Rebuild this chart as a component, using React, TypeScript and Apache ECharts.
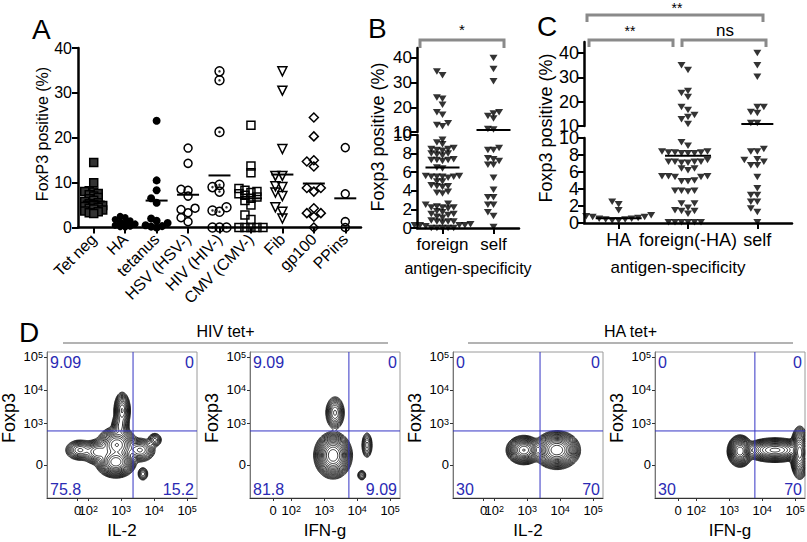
import React, { useEffect, useRef } from "react";
import * as echarts from "echarts";

const FONT = "'Liberation Sans', Arial, Helvetica, sans-serif";

// ---------------- Panel A data ----------------
const aCategories = ["Tet neg", "HA", "tetanus", "HSV (HSV-)", "HIV (HIV-)", "CMV (CMV-)", "Fib", "gp100", "PPins"];
const aTetNeg = [14.5, 10, 8.2, 8, 7.9, 7.6, 7.3, 7, 6.7, 6.4, 6.1, 5.8, 5.5, 5.3, 5.1, 4.9, 4.7, 4.5, 4.3, 4.1, 3.9, 3.7, 3.5, 3.3, 3.1];
const aHA = [2.5, 2.2, 1.8, 1.5, 1.2, 1.0, 0.8, 0.5, 0.3, 0.2, 0.1];
const aTetanus = [23.8, 10.5, 8.3, 6.5, 5.5, 2.0, 1.5, 1.0, 0.5, 0.3, 0.2, 0];
const aHSV = [17.7, 14.3, 8.5, 8.3, 7.0, 4.3, 4.0, 3.3, 2.2, 1.3];
const aHIV = [34.8, 32.8, 21.3, 9.5, 9.0, 8.0, 4.5, 3.8, 3.5, 0, 0, 0];
const aCMV = [22.8, 13.7, 12.2, 8.7, 8.3, 8.0, 7.8, 7.5, 7.2, 6.8, 6.5, 6.0, 5.0, 2.8, 1.8, 0, 0, 0, 0, 0];
const aFib = [34.8, 30.5, 17.5, 11.5, 11.5, 9.2, 9.0, 7.8, 7.0, 4.5, 3.5, 2.0];
const aGp100 = [24.5, 20.3, 15.0, 14.7, 13.6, 8.8, 8.8, 8.0, 4.3, 3.2, 3.2, 2.4, 0];
const aPPins = [17.8, 7.5, 1.3, 0];
const aMeans = [5.8, 0.8, 6.0, 7.3, 11.6, 6.5, 11.8, 9.8, 6.5];
const aYTicks = [0, 10, 20, 30, 40];

// ---------------- Panel B data ----------------
const bCategories = ["foreign", "self"];
const bForeign = [
  34.5, 33, 24, 23.5, 21, 18, 17, 13.5, 12.8, 12.3,
  9.5, 9.2, 9.0, 8.6, 8.5, 8.4, 8.5, 8.3, 8.0, 7.9, 8.0, 7.8,
  7.3, 7.3, 7.2, 7.4, 7.3, 6.4, 6.5, 5.5, 5.5, 5.6, 5.4, 5.5, 5.5, 5.6,
  5.0, 5.0, 4.5, 4.4, 4.6, 4.5, 3.8, 3.7, 3.9, 2.5, 2.6,
  2.2, 2.2, 2.1, 2.3, 2.2, 1.8, 1.7, 1.5, 1.4, 1.5, 1.2, 1.1,
  0.7, 0.7, 0.6, 0.8, 0.7, 0.3, 0.3, 0.2, 0.3, 0.4, 0.3, 0, 0, 0, 0, 0,
];
const bSelf = [40, 35.5, 30.5, 18, 17.5, 16.5, 15.5, 11.2, 11, 8.6, 8.4, 8.4, 7.5, 7.4, 7.2, 6.8, 6.8, 5.4, 4.1, 3.3, 3.3, 2.5, 2.5, 1.7, 1.3, 0.1];
const bMeans = [6.5, 10.8];
const bSignificance = "*";

// ---------------- Panel C data ----------------
const cCategories = ["HA", "foreign(-HA)", "self"];
const cHA = [2.5, 2.2, 1.5, 0.9, 0.8, 0.7, 0.6, 0.5, 0.4, 0.4, 0.3, 0.3, 0.5, 0.7];
const cForeign = [
  35, 33, 24.4, 23.6, 21.9, 17.8, 16.6, 14.5, 13.7, 12.8, 10.8,
  9.5, 9.1, 8.3, 8.2, 8.2, 8.3, 8.3, 8.4, 8.2, 8.4, 7.2, 7.1, 7.1, 7.2, 7.2, 7.2, 7.4,
  6.4, 6.2, 6.4, 5.5, 5.5, 5.4, 5.5, 5.4, 4.9, 4.9, 5.0, 3.8, 3.7, 3.8, 3.8,
  2.3, 2.3, 1.8, 1.5, 1.4, 1.4, 1.1, 0.1, 0.1, 0.1, 0.1, 0.1, 0.1,
];
const cSelf = [40, 35, 30.2, 17.8, 17.8, 15.3, 15.7, 11.2, 11.2, 8.7, 8.4, 8.4, 7.5, 7.4, 7.2, 6.8, 6.8, 5.4, 4.1, 3.3, 3.3, 2.5, 2.5, 1.7, 1.3, 0.1];
const cMeans = [0.55, 7.9, 10.8];
const cSignificance = ["**", "**", "ns"];

const upperTicks = [10, 20, 30, 40];
const lowerTicksA = [0, 4, 8];
const lowerTicksB = [2, 6, 10];
const axisTitle = "antigen-specificity";

// ---------------- Panel D data ----------------
const dGroupTitles = ["HIV tet+", "HA tet+"];
const dXNames = ["IL-2", "IFN-g", "IL-2", "IFN-g"];
const dYName = "Foxp3";
const dQuadrants = [
  ["9.09", "0", "75.8", "15.2"],
  ["9.09", "0", "81.8", "9.09"],
  ["0", "0", "30", "70"],
  ["0", "0", "30", "70"],
];
// axis positions in decade units (log10); "0" sits on the biexponential part
const dXZeroPos = [1.68, 1.45, 1.68, 1.45];
const dXDecades = [2, 3, 4, 5];
const dYZeroPos = 1.73;
const dYDecades = [3, 4, 5];
// quadrant gates [x, y]
const dGates = [[3.36, 2.76], [3.75, 2.76], [3.39, 2.76], [3.78, 2.76]];
// populations: [centre x, centre y, spread x, spread y, weight]
const dPopulations = [
  [
    [2.84, 1.82, 0.19, 0.15, 1],
    [2.87, 2.34, 0.2, 0.18, 0.55],
    [2.97, 2.9, 0.1, 0.16, 0.12],
    [3.03, 3.38, 0.09, 0.2, 0.22],
    [1.75, 2.18, 0.17, 0.12, 0.12],
    [2.3, 2.12, 0.18, 0.14, 0.2],
    [3.57, 2.18, 0.18, 0.14, 0.12],
    [4.02, 2.49, 0.09, 0.09, 0.05],
    [3.66, 1.46, 0.07, 0.09, 0.04],
  ],
  [
    [3.27, 2.02, 0.18, 0.22, 1],
    [3.33, 3.31, 0.11, 0.19, 0.12],
    [4.3, 2.33, 0.07, 0.17, 0.05],
    [4.14, 1.42, 0.06, 0.07, 0.035],
  ],
  [
    [2.9, 2.18, 0.17, 0.14, 0.75],
    [3.9, 2.18, 0.22, 0.18, 1],
  ],
  [
    [3.33, 2.15, 0.12, 0.15, 1],
    [4.39, 2.18, 0.31, 0.12, 0.6],
    [5.14, 2.1, 0.09, 0.25, 0.9],
  ],
];

// ---------------- layout ----------------
const L = {
  A: { left: 78, top: 48, width: 283, height: 179.5, max: 40 },
  B: { left: 417, width: 102, upperTop: 48, upperH: 84, upperMax: 44, lowerTop: 135, lowerH: 93 },
  C: { left: 584, width: 208, upperTop: 42, upperH: 84, upperMax: 44.5, lowerTop: 138, lowerH: 85 },
  D: { lefts: [47, 250, 453, 655], top: 352, width: 150, height: 146, xMin: 0.75, xMax: 5.3, yMin: 0.73, yMax: 5.15 },
};

function swarm(py: number[], w: number, h: number): number[] {
  const idx = py.map((_, i) => i).sort((a, b) => py[b] - py[a]);
  const placed: { x: number; y: number }[] = [];
  const out = new Array(py.length).fill(0);
  for (const i of idx) {
    const y = py[i];
    const near = placed.filter((p) => Math.abs(p.y - y) < h);
    const cands = [0];
    near.forEach((p) => cands.push(p.x + w, p.x - w));
    cands.sort((a, b) => Math.abs(a) - Math.abs(b) || a - b);
    let x = 0;
    for (const c of cands) {
      if (near.every((p) => Math.abs(p.x - c) >= w - 0.01)) {
        x = c;
        break;
      }
    }
    placed.push({ x, y });
    out[i] = x;
  }
  return out;
}

function meanSeries(xi: number, yi: number, data: number[][], halfs: number[]) {
  return {
    type: "custom",
    xAxisIndex: xi,
    yAxisIndex: yi,
    data,
    z: 5,
    silent: true,
    encode: { x: 0, y: 1 },
    renderItem: (params: any, api: any) => {
      const c = api.value(0);
      const p = api.coord([c, api.value(1)]);
      const half = halfs[c] || 10;
      return {
        type: "line",
        shape: { x1: p[0] - half, y1: p[1], x2: p[0] + half, y2: p[1] },
        style: { stroke: "#000", lineWidth: 2 },
      };
    },
  };
}

function contourPath(pops: number[][], a0: number[], a1: number[]) {
  const D = L.D;
  const nx = 140, ny = 136;
  const f: number[][] = [];
  let max = 0;
  for (let j = 0; j <= ny; j++) {
    const row: number[] = [];
    const y = D.yMin + ((D.yMax - D.yMin) * j) / ny;
    for (let i = 0; i <= nx; i++) {
      const x = D.xMin + ((D.xMax - D.xMin) * i) / nx;
      let s = 0;
      for (const p of pops) {
        const dx = (x - p[0]) / p[2];
        const dy = (y - p[1]) / p[3];
        s += p[4] * Math.exp(-0.5 * (dx * dx + dy * dy));
      }
      row.push(s);
      if (s > max) max = s;
    }
    f.push(row);
  }
  const levels: number[] = [];
  for (let k = 1; k <= 17; k++) levels.push(max * Math.pow(0.73, k));
  const P = (fi: number, fj: number) =>
    (a0[0] + ((a1[0] - a0[0]) * fi) / nx).toFixed(1) + " " + (a0[1] + ((a1[1] - a0[1]) * fj) / ny).toFixed(1);
  let d = "";
  for (const lv of levels) {
    for (let j = 0; j < ny; j++) {
      for (let i = 0; i < nx; i++) {
        const a = f[j][i], b = f[j][i + 1], c = f[j + 1][i + 1], e = f[j + 1][i];
        const A = a >= lv, B = b >= lv, C = c >= lv, E = e >= lv;
        if (A === B && B === C && C === E) continue;
        const pts: string[] = [];
        pts.push(A !== B ? P(i + (lv - a) / (b - a), j) : "");
        pts.push(B !== C ? P(i + 1, j + (lv - b) / (c - b)) : "");
        pts.push(E !== C ? P(i + (lv - e) / (c - e), j + 1) : "");
        pts.push(A !== E ? P(i, j + (lv - a) / (e - a)) : "");
        const got = pts.filter((s) => s);
        if (got.length === 2) {
          d += "M" + got[0] + "L" + got[1];
        } else if (got.length === 4) {
          const centre = (a + b + c + e) / 4 >= lv;
          if (A === centre) {
            d += "M" + pts[0] + "L" + pts[1] + "M" + pts[2] + "L" + pts[3];
          } else {
            d += "M" + pts[3] + "L" + pts[0] + "M" + pts[1] + "L" + pts[2];
          }
        }
      }
    }
  }
  return d;
}

function buildOption() {
  const D = L.D;
  const series: any[] = [];
  const grids: any[] = [];
  const xAxes: any[] = [];
  const yAxes: any[] = [];
  const graphic: any[] = [];
  const base = { containLabel: false, outerBoundsMode: "none" };
  const blackLine = { show: true, onZero: false, lineStyle: { color: "#000", width: 2.5 } };
  const blackTick = { show: true, length: 6, lineStyle: { color: "#000", width: 2 } };
  const label = (size: number, extra: any = {}) => ({
    color: "#000", fontSize: size, fontFamily: FONT, showMinLabel: true, showMaxLabel: true, hideOverlap: false, ...extra,
  });

  grids.push({ ...base, left: L.A.left, top: L.A.top, width: L.A.width, height: L.A.height });
  grids.push({ ...base, left: L.B.left, top: L.B.upperTop, width: L.B.width, height: L.B.upperH });
  grids.push({ ...base, left: L.B.left, top: L.B.lowerTop, width: L.B.width, height: L.B.lowerH });
  grids.push({ ...base, left: L.C.left, top: L.C.upperTop, width: L.C.width, height: L.C.upperH });
  grids.push({ ...base, left: L.C.left, top: L.C.lowerTop, width: L.C.width, height: L.C.lowerH });
  D.lefts.forEach((l) =>
    grids.push({ ...base, left: l, top: D.top, width: D.width, height: D.height, show: true, borderColor: "#9a9a9a", borderWidth: 1, backgroundColor: "transparent" })
  );

  // ----- Panel A axes
  xAxes.push({
    gridIndex: 0, type: "category", data: aCategories, axisLine: blackLine,
    axisTick: { ...blackTick, alignWithLabel: true },
    axisLabel: label(16, { rotate: 45, interval: 0, margin: 9 }), splitLine: { show: false },
  });
  yAxes.push({
    gridIndex: 0, type: "value", min: aYTicks[0], max: aYTicks[aYTicks.length - 1], interval: 10,
    axisLine: blackLine, axisTick: blackTick, axisLabel: label(16, { margin: 6 }), splitLine: { show: false },
  });
  // ----- Panel B axes
  xAxes.push({ gridIndex: 1, type: "category", data: bCategories, show: false });
  xAxes.push({
    gridIndex: 2, type: "category", data: bCategories, axisLine: blackLine,
    axisTick: { ...blackTick, alignWithLabel: true }, axisLabel: label(17, { margin: 8, interval: 0 }), splitLine: { show: false },
  });
  yAxes.push({
    gridIndex: 1, type: "value", min: 10, max: L.B.upperMax, axisLine: blackLine,
    axisTick: { ...blackTick, customValues: upperTicks }, axisLabel: label(17, { margin: 5, lineHeight: 14, customValues: upperTicks }), splitLine: { show: false },
  });
  yAxes.push({
    gridIndex: 2, type: "value", min: 0, max: 10, interval: 2, axisLine: blackLine,
    axisTick: blackTick, axisLabel: label(17, { margin: 5, lineHeight: 14 }), splitLine: { show: false },
  });
  // ----- Panel C axes
  xAxes.push({ gridIndex: 3, type: "category", data: cCategories, show: false });
  xAxes.push({
    gridIndex: 4, type: "category", data: cCategories, axisLine: blackLine,
    axisTick: { ...blackTick, alignWithLabel: true }, axisLabel: label(18, { margin: 8, interval: 0 }), splitLine: { show: false },
  });
  yAxes.push({
    gridIndex: 3, type: "value", min: 10, max: L.C.upperMax, axisLine: blackLine,
    axisTick: { ...blackTick, customValues: upperTicks }, axisLabel: label(18, { margin: 5, lineHeight: 14, customValues: upperTicks }), splitLine: { show: false },
  });
  yAxes.push({
    gridIndex: 4, type: "value", min: 0, max: 10, interval: 2, position: "left", axisLine: blackLine,
    axisTick: blackTick, axisLabel: label(18, { margin: 5, lineHeight: 14, customValues: lowerTicksA }), splitLine: { show: false },
  });

  // ----- Panel D axes
  const rich = {
    n: { fontSize: 13, color: "#000", fontFamily: FONT },
    s: { fontSize: 9, color: "#000", fontFamily: FONT, verticalAlign: "top" },
  };
  const fmt = (zero: number) => (v: number) => (Math.abs(v - zero) < 1e-6 ? "{n|0}" : `{n|10}{s|${Math.round(v)}}`);
  for (let i = 0; i < 4; i++) {
    xAxes.push({
      gridIndex: 5 + i, type: "value", min: D.xMin, max: D.xMax, position: "bottom",
      axisLine: { show: true, onZero: false, lineStyle: { color: "#333", width: 1 } },
      axisTick: { show: true, customValues: dXDecades, length: 3, lineStyle: { color: "#333" } },
      axisLabel: { customValues: dXDecades, formatter: fmt(-99), rich, margin: 6, hideOverlap: false, showMinLabel: true, showMaxLabel: true },
      splitLine: { show: false },
    });
    const yv = [dYZeroPos, ...dYDecades];
    yAxes.push({
      gridIndex: 5 + i, type: "value", min: D.yMin, max: D.yMax,
      axisLine: { show: true, onZero: false, lineStyle: { color: "#777", width: 1 } },
      axisTick: { show: true, customValues: yv, length: 3, lineStyle: { color: "#333" } },
      axisLabel: { customValues: yv, formatter: fmt(dYZeroPos), rich, margin: 4, lineHeight: 12, hideOverlap: false, showMinLabel: true, showMaxLabel: true },
      splitLine: { show: false },
    });
  }
  // separate axes carrying only the "0" label (it overlaps 10² on purpose)
  for (let i = 0; i < 4; i++) {
    const zv = [dXZeroPos[i]];
    xAxes.push({
      gridIndex: 5 + i, type: "value", min: D.xMin, max: D.xMax, position: "bottom", offset: 0,
      axisLine: { show: false },
      axisTick: { show: true, customValues: zv, length: 3, lineStyle: { color: "#333" } },
      axisLabel: { customValues: zv, formatter: fmt(dXZeroPos[i]), rich, margin: 6, showMinLabel: true, showMaxLabel: true },
      splitLine: { show: false },
    });
  }
  // second label axis for the C lower segment (labels 2, 6, 10)
  yAxes.push({
    gridIndex: 4, type: "value", min: 0, max: 10, interval: 2, position: "left", offset: 0,
    axisLine: { show: false }, axisTick: { show: false },
    axisLabel: label(18, { margin: 5, lineHeight: 14, customValues: lowerTicksB }), splitLine: { show: false },
  });

  // ----- Panel A series
  const aGroups = [aTetNeg, aHA, aTetanus, aHSV, aHIV, aCMV, aFib, aGp100, aPPins];
  const clear = "rgba(0,0,0,0)";
  const aStyles: any[] = [
    { symbol: "rect", size: 8, color: "#333", bw: 1.5, w: 4.5, h: 4 },
    { symbol: "circle", size: 7, color: "#000", bw: 0, w: 5, h: 4 },
    { symbol: "circle", size: 8, color: "#000", bw: 0, w: 5.5, h: 4.5 },
    { symbol: "circle", size: 8, color: clear, bw: 1.5, w: 7, h: 5 },
    { symbol: "circle", size: 9, color: clear, bw: 1.5, dot: true, w: 7, h: 5 },
    { symbol: "rect", size: 8, color: clear, bw: 1.5, w: 6, h: 4.5 },
    { symbol: "triangle", size: 9, color: clear, bw: 1.5, rotate: 180, w: 7, h: 5 },
    { symbol: "diamond", size: 9, color: clear, bw: 1.5, w: 7, h: 5 },
    { symbol: "circle", size: 8, color: clear, bw: 1.5, w: 7, h: 5 },
  ];
  const pxA = (v: number) => L.A.top + L.A.height * (1 - v / L.A.max);
  aGroups.forEach((vals, ci) => {
    const st = aStyles[ci];
    const offs = swarm(vals.map(pxA), st.w, st.h);
    const data = vals.map((v, k) => ({ value: [ci, v], symbolOffset: [offs[k], 0] }));
    series.push({
      type: "scatter", xAxisIndex: 0, yAxisIndex: 0, symbol: st.symbol, symbolSize: st.size, symbolRotate: st.rotate || 0,
      itemStyle: { color: st.color, borderColor: "#000", borderWidth: st.bw, opacity: 1 }, data, z: 3, silent: true, clip: false,
    });
    if (st.dot) {
      series.push({
        type: "scatter", xAxisIndex: 0, yAxisIndex: 0, symbol: "circle", symbolSize: 2.5,
        itemStyle: { color: "#000" }, data, z: 4, silent: true, clip: false,
      });
    }
  });
  series.push(meanSeries(0, 0, aMeans.map((m, i) => [i, m]), aMeans.map(() => 11)));

  // ----- Broken panels B & C
  const broken = (groups: number[][], means: number[], P: any, xu: number, xl: number, halfs: number[], w: number, h: number) => {
    const px = (v: number) =>
      v > 10 ? P.upperTop + P.upperH * (1 - (v - 10) / (P.upperMax - 10)) : P.lowerTop + P.lowerH * (1 - v / 10);
    groups.forEach((vals, ci) => {
      const offs = swarm(vals.map(px), w, h);
      const up: any[] = [];
      const lo: any[] = [];
      vals.forEach((v, k) => (v > 10 ? up : lo).push({ value: [ci, v], symbolOffset: [offs[k], 0] }));
      [[xu, up], [xl, lo]].forEach(([ax, data]: any) =>
        series.push({
          type: "scatter", xAxisIndex: ax, yAxisIndex: ax, symbol: "triangle", symbolRotate: 180, symbolSize: [8, 6.5],
          itemStyle: { color: "#000" }, data, z: 3, silent: true, clip: false,
        })
      );
    });
    const mu = means.map((m, i) => [i, m]).filter((d) => d[1] > 10);
    const ml = means.map((m, i) => [i, m]).filter((d) => d[1] <= 10);
    series.push(meanSeries(xu, xu, mu, halfs));
    series.push(meanSeries(xl, xl, ml, halfs));
  };
  broken([bForeign, bSelf], bMeans, L.B, 1, 2, [17, 17], 5.6, 4.6);
  broken([cHA, cForeign, cSelf], cMeans, L.C, 3, 4, [23, 23, 16], 6.5, 5.5);

  // ----- Panel D series
  dPopulations.forEach((pops, i) => {
    const gate = dGates[i];
    series.push({
      type: "custom", xAxisIndex: 5 + i, yAxisIndex: 5 + i, data: [[D.xMin, D.yMin]], silent: true, z: 2,
      renderItem: (params: any, api: any) => {
        const a0 = api.coord([D.xMin, D.yMin]);
        const a1 = api.coord([D.xMax, D.yMax]);
        const g = api.coord([gate[0], gate[1]]);
        return {
          type: "group",
          children: [
            { type: "path", shape: { pathData: contourPath(pops, a0, a1) }, style: { fill: "none", stroke: "#111", lineWidth: 0.85 } },
            { type: "line", shape: { x1: g[0], y1: a1[1], x2: g[0], y2: a0[1] }, style: { stroke: "#3434c4", lineWidth: 1 } },
            { type: "line", shape: { x1: a0[0], y1: g[1], x2: a1[0], y2: g[1] }, style: { stroke: "#3434c4", lineWidth: 1 } },
          ],
        };
      },
    });
  });

  // ----- graphic texts
  const txt = (text: string, x: number, y: number, size: number, extra: any = {}) => ({
    type: "text", x, y, rotation: extra.rotation || 0, silent: true,
    style: {
      text, fontSize: size, fontFamily: FONT, fill: extra.fill || "#000",
      align: extra.align || "center", verticalAlign: extra.va || "middle",
      textAlign: extra.align || "center", textVerticalAlign: extra.va || "middle",
    },
  });
  const bracket = (pts: number[][]) => ({
    type: "polyline", silent: true, shape: { points: pts }, style: { stroke: "#8a8a8a", lineWidth: 3, fill: "none" },
  });
  graphic.push(txt("A", 32, 29, 28, { align: "left" }));
  graphic.push(txt("B", 368, 28, 28, { align: "left" }));
  graphic.push(txt("C", 537, 26, 28, { align: "left" }));
  graphic.push(txt("D", 19, 332, 28, { align: "left" }));
  graphic.push(txt("FoxP3 positive (%)", 42, 134, 16, { rotation: Math.PI / 2 }));
  graphic.push(txt("Foxp3 positive (%)", 378, 137, 18, { rotation: Math.PI / 2 }));
  graphic.push(txt("Foxp3 positive (%)", 546, 128, 18, { rotation: Math.PI / 2 }));
  graphic.push(txt(axisTitle, 468, 268, 16));
  graphic.push(txt(axisTitle, 678, 267, 17));
  graphic.push(bracket([[420, 48], [420, 40], [504, 40], [504, 48]]));
  graphic.push(txt(bSignificance, 462, 29, 15));
  graphic.push(bracket([[587, 22], [587, 15], [763, 15], [763, 22]]));
  graphic.push(txt(cSignificance[0], 677, 8, 14));
  graphic.push(bracket([[589, 47], [589, 40], [673, 40], [673, 47]]));
  graphic.push(txt(cSignificance[1], 630, 31, 14));
  graphic.push(bracket([[682, 47], [682, 40], [766, 40], [766, 47]]));
  graphic.push(txt(cSignificance[2], 725, 30, 17));

  const groupSpans = [[63, 388], [468, 793]];
  dGroupTitles.forEach((t, g) => {
    const [x1, x2] = groupSpans[g];
    graphic.push(txt(t, (x1 + x2) / 2, 331, 16));
    graphic.push({ type: "line", silent: true, shape: { x1, y1: 343, x2, y2: 343 }, style: { stroke: "#9a9a9a", lineWidth: 1.5 } });
  });
  D.lefts.forEach((l, i) => {
    const r = l + D.width;
    const t = D.top;
    const b = D.top + D.height;
    const q = dQuadrants[i];
    const blue = "#2a2ab4";
    graphic.push(txt(q[0], l + 3, t + 2, 16, { align: "left", va: "top", fill: blue }));
    graphic.push(txt(q[1], r - 3, t + 2, 16, { align: "right", va: "top", fill: blue }));
    graphic.push(txt(q[2], l + 3, b - 1, 16, { align: "left", va: "bottom", fill: blue }));
    graphic.push(txt(q[3], r - 3, b - 1, 16, { align: "right", va: "bottom", fill: blue }));
    graphic.push(txt(dYName, l - 38, 418, 18, { rotation: Math.PI / 2 }));
    graphic.push(txt(dXNames[i], l + D.width / 2, 530, 17));
  });

  return {
    animation: false,
    backgroundColor: "#fff",
    grid: grids,
    xAxis: xAxes,
    yAxis: yAxes,
    series,
    graphic,
  };
}

export default function App() {
  const ref = useRef<HTMLDivElement>(null);
  useEffect(() => {
    const chart = echarts.init(ref.current as HTMLDivElement, null, { renderer: "svg" });
    chart.setOption(buildOption() as any);
    return () => chart.dispose();
  }, []);
  return (
    <div
      ref={ref}
      style={{ position: "fixed", left: 0, top: 0, width: 807, height: 542, background: "#fff" }}
    />
  );
}
